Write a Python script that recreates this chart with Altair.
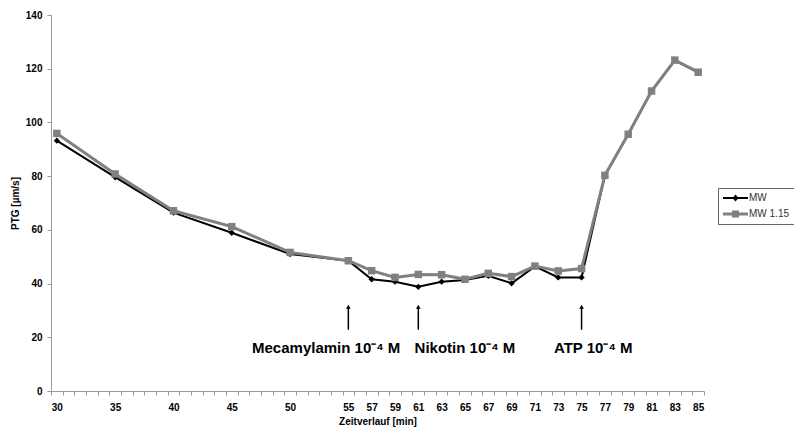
import altair as alt
import pandas as pd

# ---- data ----
minutes = [30, 35, 40, 45, 50, 55, 57, 59, 61, 63, 65, 67, 69, 71, 73, 75, 77, 79, 81, 83, 85]
mw = [93.2, 79.6, 66.4, 58.9, 51.0, 48.5, 41.6, 40.7, 38.8, 40.7, 41.3, 42.9, 40.1, 46.4,
      42.3, 42.3, 80.2, 95.6, 111.6, 123.1, 118.6]
mw115 = [95.9, 80.8, 67.1, 61.2, 51.6, 48.5, 44.8, 42.3, 43.4, 43.3, 41.6, 43.8, 42.6, 46.5,
         44.7, 45.6, 80.3, 95.6, 111.7, 123.2, 118.7]
series_names = ["MW", "MW 1.15"]
series_colors = ["#000000", "#808080"]
tick_labels = [30, 35, 40, 45, 50, 55, 57, 59, 61, 63, 65, 67, 69, 71, 73, 75, 77, 79, 81, 83, 85]
y_ticks = [0, 20, 40, 60, 80, 100, 120, 140]
arrow_minutes = [55, 61, 75]
event_labels = ["Mecamylamin 10\u207b\u2074 M", "Nikotin 10\u207b\u2074 M", "ATP 10\u207b\u2074 M"]
event_label_minutes = [53.1, 65.0, 76.0]

FONT = "Liberation Sans"

df = pd.DataFrame({
    "minute": minutes * 2,
    "value": mw + mw115,
    "series": [series_names[0]] * len(minutes) + [series_names[1]] * len(minutes),
})
df_arrows = pd.DataFrame({"minute": arrow_minutes})
df_events = pd.DataFrame({"minute": event_label_minutes, "label": event_labels})

x_domain = [29.5, 85.5]
px_per_min = 653 / (x_domain[1] - x_domain[0])

x_enc = alt.X(
    "minute:Q",
    scale=alt.Scale(domain=x_domain, nice=False, zero=False),
    axis=alt.Axis(
        title="Zeitverlauf [min]",
        values=[x_domain[0] + i for i in range(57)],
        tickCount=200,
        labelExpr=f"indexof({tick_labels}, datum.value + 0.5) >= 0 ? format(datum.value + 0.5, 'd') : ''",
        labelOffset=px_per_min / 2,
        labelOverlap=False,
        labelFlush=False,
        labelPadding=7,
        titlePadding=4,
        grid=False,
    ),
)
y_enc = alt.Y(
    "value:Q",
    scale=alt.Scale(domain=[0, 140], nice=False),
    axis=alt.Axis(title="PTG [\u00b5m/s]", values=y_ticks, grid=False, labelPadding=5, titlePadding=5),
)

base = alt.Chart(df).encode(x=x_enc, y=y_enc)

line_mw = base.transform_filter(alt.datum.series == series_names[0]).mark_line(
    color=series_colors[0], strokeWidth=2)
pts_mw = base.transform_filter(alt.datum.series == series_names[0]).mark_point(
    shape="diamond", filled=True, size=40, color=series_colors[0], opacity=1)
line_115 = base.transform_filter(alt.datum.series == series_names[1]).mark_line(
    color=series_colors[1], strokeWidth=3)
pts_115 = base.transform_filter(alt.datum.series == series_names[1]).mark_point(
    shape="square", filled=True, size=56, color=series_colors[1], opacity=1)

# legend-only layer (zero-size points) with line+marker glyphs
# glyph unit = sqrt(symbolSize)/2 = 5 px; line spans -1..4, marker at 1.5
diamond_glyph = "M-1,-0.2H4V0.2H-1Z M1.5,-0.7L2.1,0L1.5,0.7L0.9,0Z"
square_glyph = "M-1,-0.3H4V0.3H-1Z M0.8,-0.7H2.2V0.7H0.8Z"
legend_def = alt.Legend(
    title=None, orient="none", legendX=667, legendY=173,
    symbolSize=100, symbolStrokeWidth=0, symbolOpacity=1,
    labelFont=FONT, labelFontSize=10, labelColor="#333333",
    strokeColor="#666666", padding=5, rowPadding=6, labelOffset=16,
)
legend_layer = base.mark_point(filled=True, size=0).encode(
    color=alt.Color("series:N", scale=alt.Scale(domain=series_names, range=series_colors), legend=legend_def),
    shape=alt.Shape("series:N", scale=alt.Scale(domain=series_names, range=[diamond_glyph, square_glyph]),
                    legend=legend_def),
)

arrow_shaft = alt.Chart(df_arrows).mark_rule(color="black", strokeWidth=1.5).encode(
    x="minute:Q", y=alt.datum(22.8), y2=alt.datum(31.0))
arrow_head = alt.Chart(df_arrows).mark_point(
    shape="triangle-up", filled=True, size=22, color="black", opacity=1).encode(
    x="minute:Q", y=alt.datum(31.4))
event_text = alt.Chart(df_events).mark_text(
    font=FONT, fontSize=15, fontWeight="bold", color="#000000", align="center", baseline="middle").encode(
    x="minute:Q", y=alt.datum(16.0), text="label:N")

chart = alt.layer(
    legend_layer, line_mw, pts_mw, line_115, pts_115, arrow_shaft, arrow_head, event_text
).properties(
    width=653, height=376,
    autosize=alt.AutoSizeParams(type="none"),
    padding={"left": 51, "top": 15, "right": 90, "bottom": 44},
).configure_view(stroke=None).configure_axis(
    domainColor="#9a9a9a", tickColor="#9a9a9a", tickSize=4, domainWidth=1,
    labelFont=FONT, labelFontSize=10, labelFontWeight="bold", labelColor="#000000",
    titleFont=FONT, titleFontSize=10, titleFontWeight="bold", titleColor="#000000",
)

chart.save("out.html", embed_options={"renderer": "svg", "actions": False})
